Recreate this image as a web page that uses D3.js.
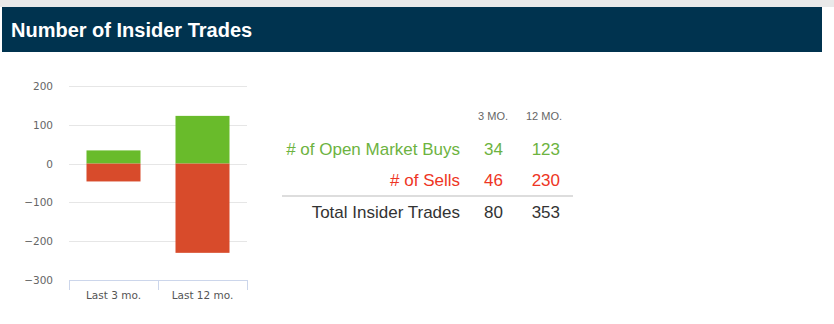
<!DOCTYPE html>
<html lang="en">
<head>
<meta charset="UTF-8">
<title>Number of Insider Trades</title>
<script src="https://cdn.jsdelivr.net/npm/d3@7"></script>
<style>
	body{ margin:0; background:#fff; width:834px; height:324px; overflow:hidden; }
	svg{ display:block; }
	.grid line{ stroke:#e6e6e6; }
	.ytick text{ font-family:"DejaVu Sans",Verdana,sans-serif; font-size:10.5px; fill:#666; }
	.xlab{ font-family:"DejaVu Sans",Verdana,sans-serif; font-size:10.5px; fill:#555; }
	.tbl{ font-family:"Liberation Sans",Arial,sans-serif; }
</style>
</head>
<body>
<svg width="834" height="324"></svg>
<script>
var categories = ["Last 3 mo.", "Last 12 mo."];
var buys = [34, 123];
var sells = [-46, -230];
var yTicks = [200, 100, 0, -100, -200, -300];

var colHeads = ["3 MO.", "12 MO."];
var rowLabels = ["# of Open Market Buys", "# of Sells", "Total Insider Trades"];
var buyCounts = [34, 123];
var sellCounts = [46, 230];
var totalCounts = [80, 353];

var svg = d3.select("svg");

// header band
svg.append("rect").attr("x",0).attr("y",0).attr("width",834).attr("height",7).attr("fill","#e9e9e9");
svg.append("rect").attr("x",2).attr("y",7).attr("width",820).attr("height",45).attr("fill","#00334f");
svg.append("text")
	.attr("x",11).attr("y",37)
	.attr("fill","#fff")
	.style("font-family","'Liberation Sans Narrow','Arial Narrow',sans-serif")
	.style("font-weight","bold")
	.style("font-size","20px")
	.text("Number of Insider Trades");

// chart
var y = d3.scaleLinear().domain([-300,200]).range([280,86]);
var x = d3.scaleBand().domain(categories).range([69,247]).paddingInner(0).paddingOuter(0);

var g = svg.append("g");
g.append("g").attr("class","grid")
	.selectAll("line").data(yTicks.filter(function(d){ return d > -300; })).enter()
	.append("line")
	.attr("x1",69).attr("x2",247)
	.attr("y1",function(d){ return Math.round(y(d))+0.5; })
	.attr("y2",function(d){ return Math.round(y(d))+0.5; });

g.selectAll(".ytick").data(yTicks).enter()
	.append("g").attr("class","ytick")
	.append("text")
	.attr("x",53).attr("y",function(d){ return y(d)+4; })
	.attr("text-anchor","end")
	.text(function(d){ return d < 0 ? "\u2212" + Math.abs(d) : d; });

// x axis
g.append("line").attr("x1",69).attr("x2",247).attr("y1",280.5).attr("y2",280.5).attr("stroke","#ccd6eb");
var tickXs = [x.range()[0]].concat(categories.map(function(c){ return x(c) + x.bandwidth(); }));
g.selectAll(".xtick").data(tickXs).enter()
	.append("line")
	.attr("x1",function(d){ return Math.round(d)+0.5; })
	.attr("x2",function(d){ return Math.round(d)+0.5; })
	.attr("y1",280).attr("y2",290)
	.attr("stroke","#ccd6eb");
g.selectAll(".xlab").data(categories).enter()
	.append("text").attr("class","xlab")
	.attr("x",function(d){ return x(d) + x.bandwidth()/2; })
	.attr("y",299)
	.attr("text-anchor","middle")
	.text(function(d){ return d; });

var barW = 54;
g.selectAll(".buy").data(buys).enter()
	.append("rect")
	.attr("x",function(d,i){ return x(categories[i]) + (x.bandwidth()-barW)/2; })
	.attr("y",function(d){ return y(d); })
	.attr("width",barW)
	.attr("height",function(d){ return y(0) - y(d); })
	.attr("fill","#69bb2b");
g.selectAll(".sell").data(sells).enter()
	.append("rect")
	.attr("x",function(d,i){ return x(categories[i]) + (x.bandwidth()-barW)/2; })
	.attr("y",y(0))
	.attr("width",barW)
	.attr("height",function(d){ return y(d) - y(0); })
	.attr("fill","#d84b2b");

// table
var t = svg.append("g").attr("class","tbl");
var colX = [508, 562];
t.selectAll(".ch").data(colHeads).enter()
	.append("text")
	.attr("x",function(d,i){ return colX[i]; })
	.attr("y",120)
	.attr("text-anchor","end")
	.attr("fill","#666")
	.style("font-size","11px")
	.text(function(d){ return d; });

var rows = [
	{label:rowLabels[0], vals:buyCounts, color:"#6db33f", y:155},
	{label:rowLabels[1], vals:sellCounts, color:"#ee3524", y:186},
	{label:rowLabels[2], vals:totalCounts, color:"#333", y:218}
];
rows.forEach(function(r){
	t.append("text").attr("x",460).attr("y",r.y).attr("text-anchor","end")
		.attr("fill",r.color).style("font-size","17px").text(r.label);
	t.selectAll(null).data(r.vals).enter()
		.append("text")
		.attr("x",function(d,i){ return [503,560][i]; })
		.attr("y",r.y)
		.attr("text-anchor","end")
		.attr("fill",r.color)
		.style("font-size","17px")
		.text(function(d){ return d; });
});
t.append("line").attr("x1",282).attr("x2",573).attr("y1",196).attr("y2",196)
	.attr("stroke","#ddd").attr("stroke-width",2);
</script>
</body>
</html>
